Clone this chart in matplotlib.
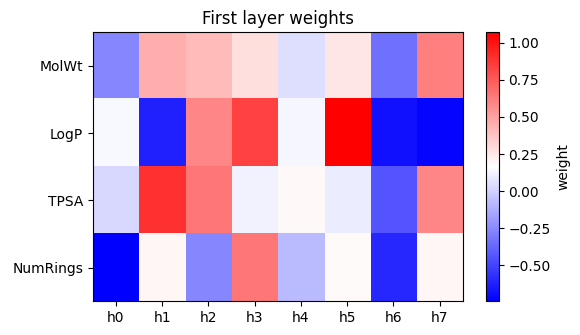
import numpy as np
import matplotlib
matplotlib.use("Agg")
import matplotlib.pyplot as plt

features = ["MolWt", "LogP", "TPSA", "NumRings"]
hidden = ["h0", "h1", "h2", "h3", "h4", "h5", "h6", "h7"]

# weights per input feature (rows) for each hidden unit (cols)
w_molwt = [-0.26, 0.45, 0.41, 0.28, 0.05, 0.25, -0.34, 0.62]
w_logp = [0.14, -0.62, 0.59, 0.83, 0.13, 1.07, -0.68, -0.72]
w_tpsa = [0.03, 0.90, 0.65, 0.12, 0.19, 0.10, -0.44, 0.59]
w_numrings = [-0.74, 0.20, -0.26, 0.65, -0.08, 0.18, -0.60, 0.20]

weights = np.array([w_molwt, w_logp, w_tpsa, w_numrings])

fig = plt.figure(figsize=(5.8, 3.35), dpi=100)
ax = fig.add_axes([0.160, 0.101, 0.638, 0.803])
cax = fig.add_axes([0.838, 0.101, 0.022, 0.803])

im = ax.imshow(weights, cmap="bwr", aspect="auto")
ax.set_xticks(range(len(hidden)))
ax.set_xticklabels(hidden)
ax.set_yticks(range(len(features)))
ax.set_yticklabels(features)
ax.set_title("First layer weights")

cb = fig.colorbar(im, cax=cax)
cb.set_label("weight")

fig.savefig("out.png", dpi=100)
